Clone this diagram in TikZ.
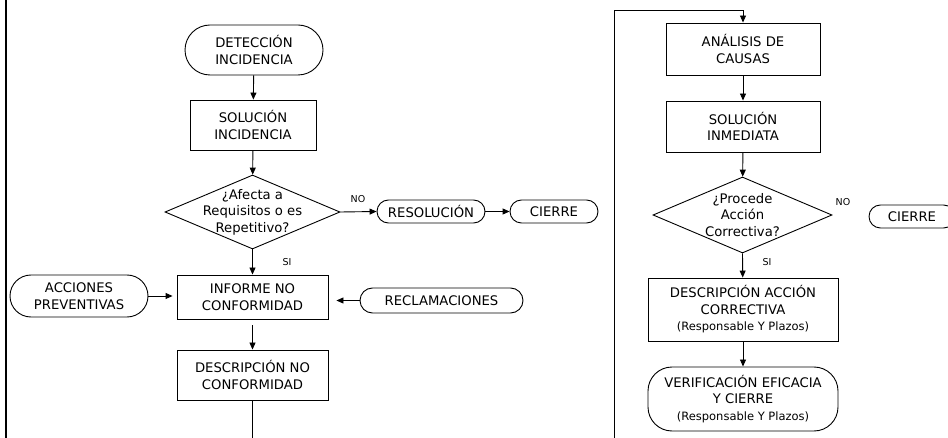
\documentclass[tikz,border=0pt]{standalone}
\usepackage{fontspec}
\setmainfont{DejaVu Sans}
\usetikzlibrary{shapes.geometric,arrows.meta}
\begin{document}
\begin{tikzpicture}[x=1pt,y=-1pt,line width=0.9pt,
  every node/.style={font=\fontsize{13.2}{16.5}\selectfont, align=center, inner sep=0pt},
  box/.style={draw, rectangle},
  term/.style={draw, rectangle, rounded corners=#1},
  dia/.style={draw, diamond},
  lbl/.style={font=\fontsize{9.5}{11}\selectfont},
  arr/.style={-{Triangle[length=7pt,width=6pt]}}]
\useasboundingbox (0,0) rectangle (948,438);
\newcommand{\smalltxt}[1]{{\fontsize{11.5}{14}\selectfont #1}}
% left column
\node[term=25pt, minimum width=138pt, minimum height=50pt] (det) at (254,50) {DETECCIÓN\\INCIDENCIA};
\node[box, minimum width=126pt, minimum height=50pt] (sol) at (253,125) {SOLUCIÓN\\INCIDENCIA};
\node[dia, minimum width=175pt, minimum height=74pt,
  label={center:{¿Afecta a\\Requisitos o es\\Repetitivo?}}] (q1) at (252.5,212) {};
\node[term=11.5pt, minimum width=108pt, minimum height=23pt] (res) at (431,211.5) {RESOLUCIÓN};
\node[term=11.5pt, minimum width=88pt, minimum height=23pt] (cie1) at (554,211.5) {CIERRE};
\node[box, minimum width=151pt, minimum height=44pt] (inf) at (252.5,297) {INFORME NO\\CONFORMIDAD};
\node[term=21pt, minimum width=138pt, minimum height=42pt] (acc) at (79,296) {ACCIONES\\PREVENTIVAS};
\node[term=12.5pt, minimum width=163pt, minimum height=25pt] (rec) at (441.5,300.5) {RECLAMACIONES};
\node[box, minimum width=151pt, minimum height=50pt] (des) at (252.5,375) {DESCRIPCIÓN NO\\CONFORMIDAD};
\node[lbl] (no1) at (358,199) {NO};
\node[lbl] (si1) at (287,262) {SI};
% right column
\node[box, minimum width=154pt, minimum height=52pt] (ana) at (743,49) {ANÁLISIS DE\\CAUSAS};
\node[box, minimum width=154pt, minimum height=51pt] (inm) at (743,126.5) {SOLUCIÓN\\INMEDIATA};
\node[dia, minimum width=179pt, minimum height=76pt,
  label={center:{¿Procede\\Acción\\Correctiva?}}] (q2) at (742.5,215) {};
\node[term=11.5pt, minimum width=86pt, minimum height=23pt] (cie2) at (912,216.5) {CIERRE};
\node[box, minimum width=190pt, minimum height=63pt] (dac) at (743,309.5) {DESCRIPCIÓN ACCIÓN\\CORRECTIVA\\\smalltxt{(Responsable Y Plazos)}};
\node[term=24pt, minimum width=190pt, minimum height=64pt] (ver) at (743,399) {VERIFICACIÓN EFICACIA\\Y CIERRE\\\smalltxt{(Responsable Y Plazos)}};
\node[lbl] (no2) at (843,202) {NO};
\node[lbl] (si2) at (767,262) {SI};
% frame lines
\coordinate (lt) at (6,0);
\coordinate (lbt) at (6,438);
\draw[line width=2.5pt] (lt) -- (lbt);
\coordinate (lb) at (252.5,438);
\coordinate (pb) at (614,438);
\coordinate (pt) at (614,10);
% connectors
\draw[arr] (det) -- (sol);
\draw[arr] (sol) -- (q1);
\draw[arr] (q1.east) -- (res.west);
\draw[arr] (res) -- (cie1);
\draw[arr] (q1.south) -- (inf);
\draw[arr, shorten >=4pt] (acc.east) -- (acc.east -| inf.west);
\draw[arr, shorten >=8pt] (rec.west) -- (rec.west -| inf.east);
\draw[arr, shorten <=6pt] (inf) -- (des);
\draw (des) -- (lb);
\draw[arr] (pb) -- (pt) -| (ana.north);
\draw[arr] (ana) -- (inm);
\draw[arr] (inm) -- (q2);
\draw[arr] (q2.south) -- (dac);
\draw[arr] (dac) -- (ver);
\end{tikzpicture}
\end{document}
